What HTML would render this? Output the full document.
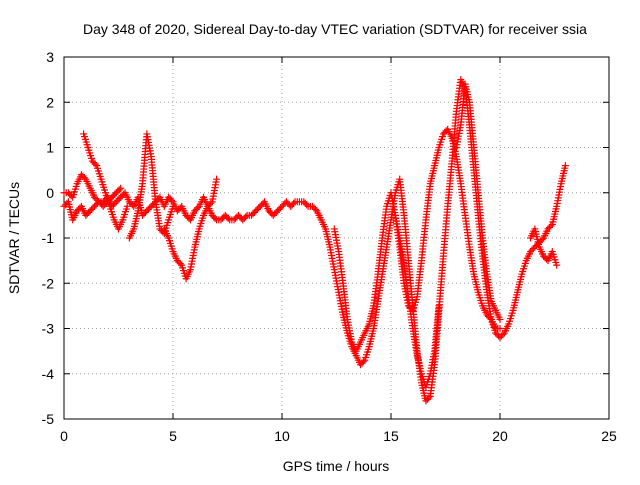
<!DOCTYPE html>
<html><head><meta charset="utf-8"><style>
body{margin:0;background:#fff}
svg text{font-family:"Liberation Sans",sans-serif;font-size:14px;fill:#000}
</style></head><body>
<svg id="chart" width="640" height="480" viewBox="0 0 640 480" xmlns="http://www.w3.org/2000/svg">
<rect width="640" height="480" fill="#fff"/>
<g id="grid"></g>
<g id="axes"></g>
<g id="marks"></g>
<text x="335" y="34" text-anchor="middle">Day 348 of 2020, Sidereal Day-to-day VTEC variation (SDTVAR) for receiver ssia</text>
<text x="336" y="471" text-anchor="middle">GPS time / hours</text>
<text x="0" y="0" transform="translate(19,238) rotate(-90)" text-anchor="middle">SDTVAR / TECUs</text>
</svg>
<script>
const xTicks=[0,5,10,15,20,25];
const yTicks=[-5,-4,-3,-2,-1,0,1,2,3];
const step=0.2;
const trackStarts=[0,0.9,0,3.0,4.6,12.4,15.2,18.0,21.4];
const trackA=[-0.3,-0.2,-0.6,-0.4,-0.3,-0.5,-0.4,-0.3,-0.2,-0.2,-0.1,-0.3,-0.2,-0.1,0,-0.2,-0.3,-0.1,-0.5,-0.4,-0.3,-0.2,-0.1,-0.3,-0.1,-0.2,-0.4,-0.3,-0.5,-0.6,-0.4,-0.3,-0.1,-0.3,-0.5,-0.6,-0.6,-0.5,-0.6,-0.6,-0.5,-0.6,-0.5,-0.5,-0.4,-0.3,-0.2,-0.4,-0.5,-0.4,-0.3,-0.2,-0.3,-0.2,-0.2,-0.2,-0.3,-0.3,-0.4,-0.6,-0.8,-1.2,-1.7,-2.2,-2.7,-3.1,-3.4,-3.6,-3.8,-3.7,-3.4,-3.0,-2.4,-1.8,-1.2,-0.6,0,0.3,-0.5,-1.5,-2.5,-3.5,-4.2,-4.6,-4.5,-3.8,-2.6,-1.4,-0.3,0.7,1.8,2.5,2.3,1.5,0.5,-0.5,-1.4,-2.2,-2.8,-3.1,-3.2,-3.1,-2.9,-2.6,-2.2,-1.8,-1.5,-1.3,-1.2,-1.1,-1.0,-0.8,-0.7,-0.3,0.2,0.6];
const trackB=[1.3,1.0,0.7,0.6,0.3,0,-0.3,-0.6,-0.8,-0.6,-0.3];
const trackC=[0,0,-0.1,0.2,0.4,0.3,0.1,-0.1,-0.2,-0.3,-0.2,-0.1,0,0.1];
const trackD=[-1.0,-0.8,-0.4,0.2,1.3,0.8,-0.2,-0.8,-0.9,-0.6,-0.3];
const trackE=[-0.8,-1.0,-1.3,-1.5,-1.6,-1.9,-1.7,-1.2,-0.8,-0.5,-0.3,-0.2,0.3];
const trackF=[-0.8,-1.3,-2.0,-2.8,-3.3,-3.5,-3.3,-3.1,-2.9,-2.5,-1.8,-1.0,-0.3,0,-0.5,-1.2,-2.0,-2.5,-2.6,-2.3,-1.5,-0.6,0.2,0.6,1.0,1.3,1.4,1.2,0.8,0.2,-0.5,-1.2,-1.8,-2.2,-2.5,-2.7,-2.8,-3.0,-3.0];
const trackG=[-0.5,-1.0,-1.6,-2.3,-3.0,-3.6,-4.0,-4.3,-4.0,-3.5,-2.5];
const trackH=[1.0,1.5,2.4,2.0,1.0,0,-1.0,-1.8,-2.4,-2.6,-2.8];
const trackI=[-1.0,-0.8,-1.2,-1.4,-1.5,-1.3,-1.6];
const tracks=[trackA,trackB,trackC,trackD,trackE,trackF,trackG,trackH,trackI];

const X0=64,X1=609,Y0=419,Y1=57;
const xs=v=>X0+(v-0)/(25-0)*(X1-X0);
const ys=v=>Y0-(v+5)/8*(Y0-Y1);
const NS='http://www.w3.org/2000/svg';
const mk=(t,a)=>{const e=document.createElementNS(NS,t);for(const k in a)e.setAttribute(k,a[k]);return e;};
const grid=document.getElementById('grid'),axes=document.getElementById('axes'),marks=document.getElementById('marks');
const frame=mk('rect',{x:X0,y:Y1,width:X1-X0,height:Y0-Y1,fill:'none',stroke:'#000','stroke-width':1});


axes.appendChild(frame);
xTicks.forEach(t=>{
  const x=xs(t);
  if(t>0&&t<25){const g=mk('line',{x1:x,x2:x,y1:Y1,y2:Y0,stroke:'#a0a0a0','stroke-dasharray':'1,3'});
  
  
  grid.appendChild(g);}
  const tk=mk('path',{d:`M${x},${Y0}v-6M${x},${Y1}v6`,stroke:'#000'});
  
  
  axes.appendChild(tk);
  const l=mk('text',{x:x,y:Y0+22,'text-anchor':'middle'});l.textContent=t;
  
  
  axes.appendChild(l);
});
yTicks.forEach(t=>{
  const y=ys(t);
  if(t>-5&&t<3){const g=mk('line',{x1:X0,x2:X1,y1:y,y2:y,stroke:'#a0a0a0','stroke-dasharray':'1,3'});
  
  
  grid.appendChild(g);}
  const tk=mk('path',{d:`M${X0},${y}h6M${X1},${y}h-6`,stroke:'#000'});
  
  
  axes.appendChild(tk);
  const l=mk('text',{x:X0-10,y:y+5,'text-anchor':'end'});l.textContent=t;
  
  
  axes.appendChild(l);
});
tracks.forEach((tr,i)=>{
  const g=mk('g',{stroke:'#ff0000','stroke-width':1.2,fill:'none'});
  
  
  for(let j=0;j<tr.length;j++){
    const x0=xs(trackStarts[i]+j*step),y0=ys(tr[j]);
    // sub-markers along segment for dense look
    const nx=j+1<tr.length?xs(trackStarts[i]+(j+1)*step):x0,ny=j+1<tr.length?ys(tr[j+1]):y0;
    const n=j+1<tr.length?Math.max(1,Math.ceil(Math.hypot(nx-x0,ny-y0)/3)):1;
    for(let k=0;k<n;k++){
      const x=x0+(nx-x0)*k/n,y=y0+(ny-y0)*k/n;
      const p=mk('path',{d:`M${x-3.5},${y}h7M${x},${y-3.5}v7`});
      
      
      g.appendChild(p);
    }
  }
  marks.appendChild(g);
});
</script>
</body></html>
